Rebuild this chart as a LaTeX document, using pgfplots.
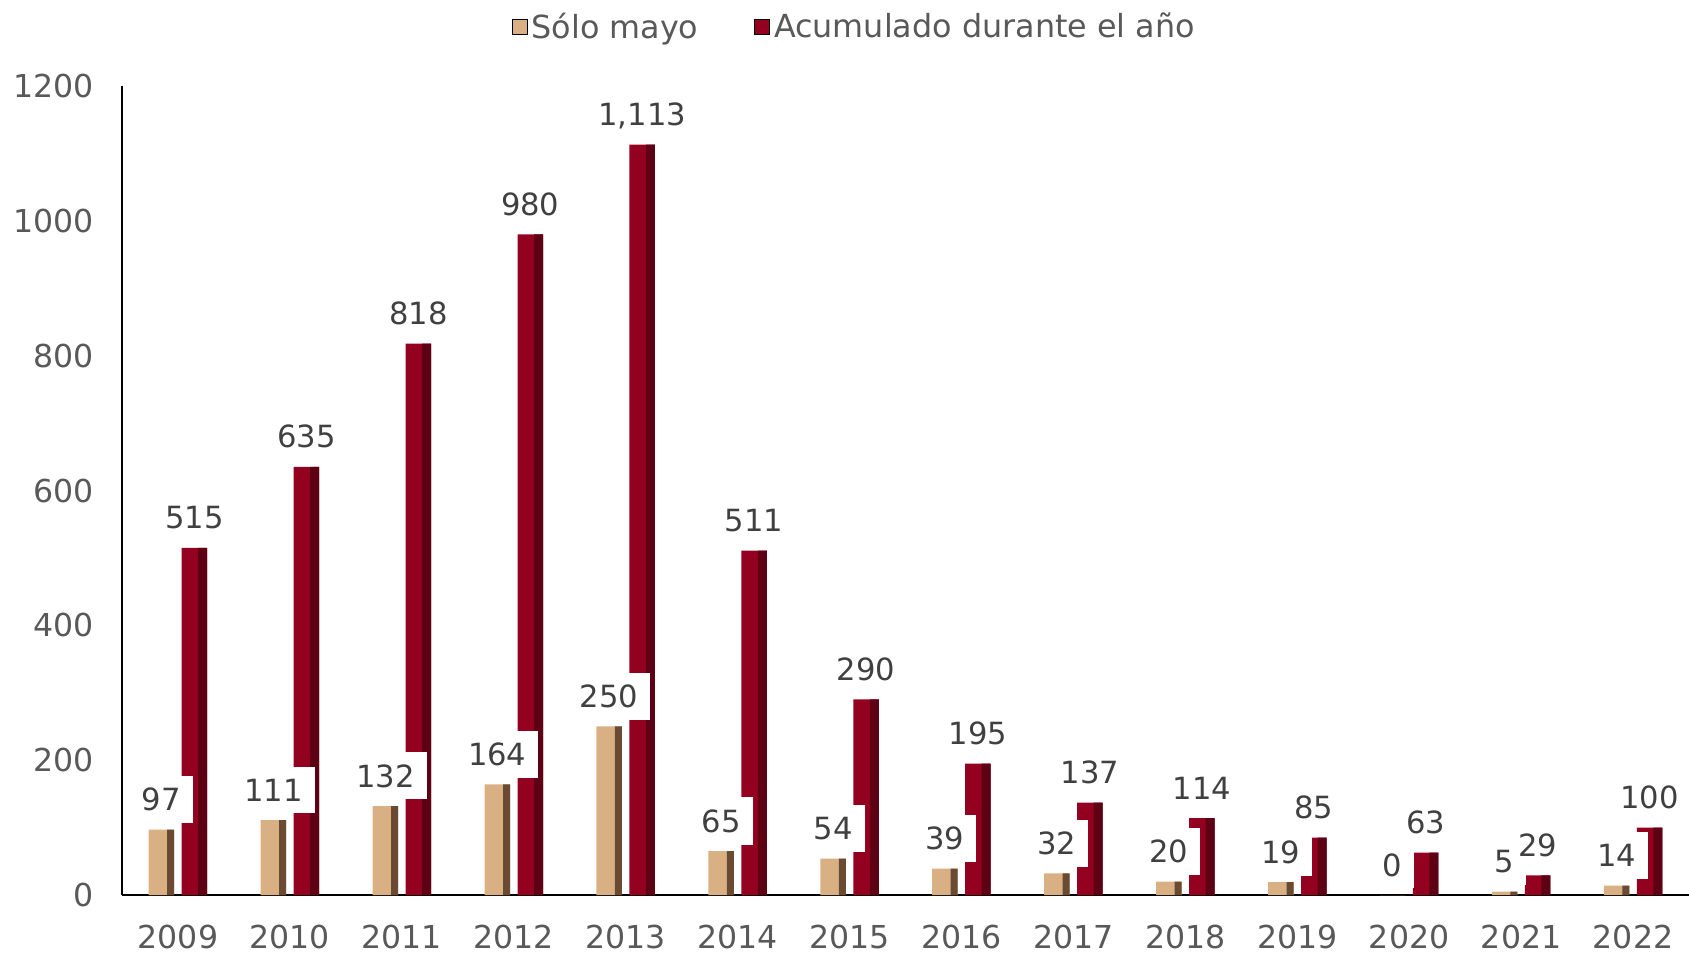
\documentclass[border=0pt]{standalone}
\usepackage{pgfplots}
\pgfplotsset{compat=1.18}
\usepackage{fontspec}
\setmainfont{DejaVu Sans}
\definecolor{redA}{HTML}{930020}
\definecolor{redB}{HTML}{5E0014}
\definecolor{tanA}{HTML}{D9B083}
\definecolor{tanB}{HTML}{6A4A32}
\definecolor{txt}{HTML}{595959}
\definecolor{lbl}{HTML}{404040}
\pgfplotstableread{
x acc may
0 515 97
1 635 111
2 818 132
3 980 164
4 1113 250
5 511 65
6 290 54
7 195 39
8 137 32
9 114 20
10 85 19
11 63 0
12 29 5
13 100 14
}\data
\begin{document}
\begin{tikzpicture}
\begin{axis}[
  scale only axis,
  width=783.5pt, height=404.5pt,
  xmin=-0.5, xmax=13.5, ymin=0, ymax=1200,
  axis x line*=bottom, axis y line*=left,
  axis line style={black, line width=1.2pt},
  xtick={0,...,13},
  xticklabels={2009,2010,2011,2012,2013,2014,2015,2016,2017,2018,2019,2020,2021,2022},
  ytick={0,200,...,1200},
  major tick length=0pt,
  tick label style={font=\fontsize{15.8}{19}\selectfont, text=txt},
  /pgf/number format/assume math mode=true,
  yticklabel style={/pgf/number format/1000 sep={}, xshift=-10.7pt},
  xticklabel style={anchor=base, yshift=-26.5pt},
  ybar,
  nodes near coords style={font=\fontsize{15.3}{19}\selectfont, text=lbl, anchor=base, yshift=9.5pt, /pgf/number format/1000 sep={,}},
  legend style={at={(0.468,1.073)}, anchor=center, draw=none, legend columns=2, font=\fontsize{15.9}{19}\selectfont, text=txt,
    /tikz/every even column/.append style={column sep=26pt}},
  legend image code/.code={\fill[#1] (0pt,-3.75pt) rectangle (7.5pt,3.75pt);},
]
\addlegendimage{fill=tanA}
\addlegendentry{Sólo mayo}
\addlegendimage{fill=redA}
\addlegendentry{Acumulado durante el año}
% red bars: face + darker right side
\addplot[forget plot, draw=none, fill=redA, bar width=12.75pt, bar shift=8.25pt] table[x=x, y=acc] {\data};
\addplot[forget plot, draw=none, fill=redB, bar width=4.5pt, bar shift=12.375pt] table[x=x, y=acc] {\data};
% tan bars: face + darker right side, labels on white boxes
\addplot[forget plot, draw=none, fill=tanA, bar width=12.75pt, bar shift=-8.25pt,
  nodes near coords, nodes near coords style={fill=white, inner xsep=6pt, inner ysep=6pt}] table[x=x, y=may] {\data};
\addplot[forget plot, draw=none, fill=tanB, bar width=3.5pt, bar shift=-3.625pt] table[x=x, y=may] {\data};
% red labels drawn last
\addplot[forget plot, draw=none, fill=none, bar width=12.75pt, bar shift=8.25pt,
  nodes near coords] table[x=x, y=acc] {\data};
\coordinate (O) at (rel axis cs:0,0);
\end{axis}
\pgfresetboundingbox
\path[use as bounding box] ([shift={(-61pt,-29.5pt)}]O) rectangle ++(844.5pt,477pt);
\end{tikzpicture}
\end{document}
